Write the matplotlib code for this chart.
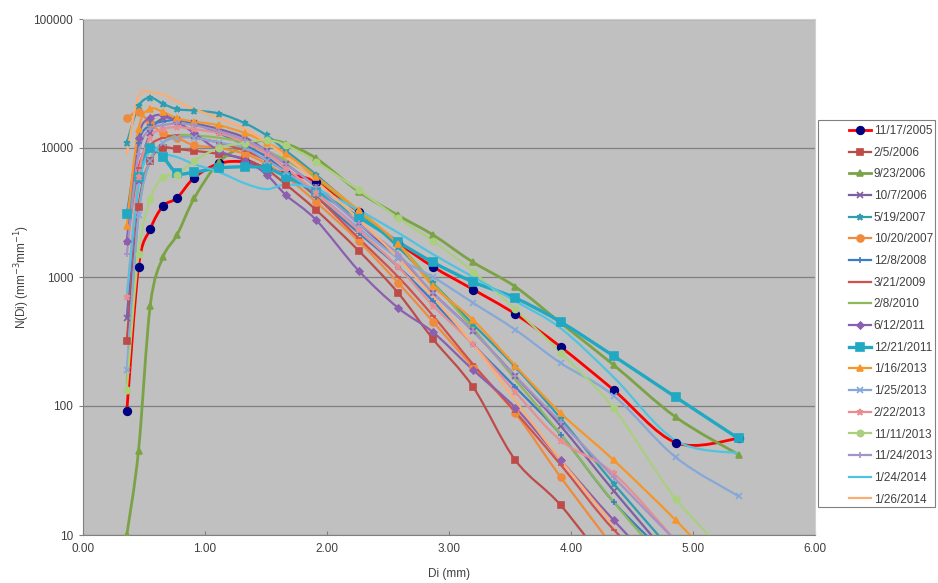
import matplotlib
matplotlib.use("Agg")
import matplotlib.pyplot as plt
from matplotlib.path import Path
from matplotlib.patches import PathPatch, Rectangle
from matplotlib.lines import Line2D
import numpy as np

nan = np.nan

# ── Data: drop size bins (mm) and N(D) per event ─────────────────────────────
diam = [0.359, 0.455, 0.551, 0.656, 0.771, 0.913, 1.116, 1.331, 1.506, 1.665,
        1.912, 2.259, 2.584, 2.869, 3.198, 3.544, 3.916, 4.350, 4.859, 5.373]

dates = ["11/17/2005", "2/5/2006", "9/23/2006", "10/7/2006", "5/19/2007",
         "10/20/2007", "12/8/2008", "3/21/2009", "2/8/2010", "6/12/2011",
         "12/21/2011", "1/16/2013", "1/25/2013", "2/22/2013", "11/11/2013",
         "11/24/2013", "1/24/2014", "1/26/2014"]

n_20051117 = [91, 1200, 2350, 3550, 4100, 5900, 7600, 7800, 7000, 6300, 5450, 3200, 1840, 1200, 800, 516, 287, 133, 52, 56]
n_20060205 = [320, 3500, 8000, 10000, 9800, 9500, 9000, 8200, 6800, 5200, 3300, 1600, 750, 330, 140, 38, 17, 5, nan, nan]
n_20060923 = [10, 45, 600, 1430, 2120, 4100, 7800, 10500, 11500, 10800, 8300, 4600, 3000, 2120, 1300, 840, 440, 208, 82, 42]
n_20061007 = [480, 5500, 13000, 17000, 16500, 15500, 14000, 12000, 9500, 7500, 5000, 2600, 1400, 750, 380, 170, 70, 22, 6, nan]
n_20070519 = [11000, 21000, 24500, 22000, 20000, 19500, 18500, 15500, 12500, 9500, 6200, 3200, 1700, 900, 430, 200, 80, 25, 7, nan]
n_20071020 = [17000, 19000, 15500, 13000, 12000, 10500, 10000, 9000, 7500, 6000, 3800, 1900, 900, 450, 200, 88, 28, 8, nan, nan]
n_20081208 = [3000, 11000, 15000, 16000, 16500, 15500, 13000, 10500, 8500, 6500, 4200, 2200, 1200, 650, 300, 140, 60, 18, 6, nan]
n_20090321 = [1800, 7000, 10500, 12000, 12500, 12000, 11000, 9500, 8000, 6500, 4200, 2000, 1000, 500, 210, 90, 35, 11, 4, nan]
n_20100208 = [150, 3000, 8000, 11000, 12500, 12500, 12000, 11000, 9500, 8000, 5800, 3200, 1800, 900, 400, 160, 60, 18, 5, nan]
n_20110612 = [1900, 12000, 17000, 18000, 16000, 13000, 9500, 8000, 6200, 4300, 2760, 1120, 575, 373, 190, 97, 38, 13, 4, nan]
n_20111221 = [3100, 6000, 10000, 8500, 6400, 6500, 7000, 7150, 7000, 6000, 4600, 2920, 1870, 1300, 915, 687, 448, 244, 117, 56]
n_20130116 = [2500, 14000, 20000, 19000, 17000, 16000, 15000, 13000, 11000, 9000, 6000, 3300, 1800, 850, 465, 205, 88, 38, 13, 4]
n_20130125 = [190, 3000, 8000, 11000, 12000, 12000, 11000, 10000, 8000, 6500, 4500, 2400, 1400, 1000, 630, 390, 215, 120, 40, 20]
n_20130222 = [700, 6000, 12000, 14000, 14500, 14000, 13000, 11000, 9000, 7000, 4500, 2300, 1200, 600, 300, 128, 54, 30, 9, nan]
n_20131111 = [133, 1500, 4000, 5960, 6200, 8000, 10000, 11000, 11500, 10500, 7800, 4720, 2860, 1900, 1100, 560, 258, 96, 19, 6]
n_20131124 = [1500, 9000, 14000, 15000, 15500, 15000, 13500, 11500, 9500, 7500, 5000, 2600, 1500, 750, 380, 170, 75, 28, 9, nan]
n_20140124 = [700, 5000, 9500, 9000, 8500, 7500, 6500, 5300, 4800, 5200, 4800, 3300, 2200, 1500, 1000, 650, 400, 167, 54, 43]
n_20140126 = [9000, 25000, 27000, 26000, 23000, 20000, 17000, 14000, 11000, 8500, 5500, 2800, 1400, 700, 300, 110, 38, 12, nan, nan]

series = [n_20051117, n_20060205, n_20060923, n_20061007, n_20070519,
          n_20071020, n_20081208, n_20090321, n_20100208, n_20110612,
          n_20111221, n_20130116, n_20130125, n_20130222, n_20131111,
          n_20131124, n_20140124, n_20140126]

# ── Styles: (line colour, marker, marker colour, line width, marker size) ───
styles = [
    ("#FF0000", "o", "#000080", 2.0, 5.5),
    ("#BE4B48", "s", "#BE4B48", 1.6, 4.5),
    ("#7BA346", "^", "#7BA346", 2.0, 5.0),
    ("#7E5FA0", "x", "#7E5FA0", 1.6, 4.0),
    ("#2E9DB0", "*", "#2E9DB0", 1.6, 5.0),
    ("#F08A3C", "o", "#F08A3C", 1.6, 5.0),
    ("#3B7DC4", "+", "#3B7DC4", 1.6, 4.5),
    ("#D0504C", "_", "#D0504C", 1.6, 4.0),
    ("#8CB85A", "", "#8CB85A", 1.6, 0),
    ("#8A5FB0", "D", "#8A5FB0", 1.6, 3.5),
    ("#21A8C3", "s", "#21A8C3", 2.4, 6.0),
    ("#F6962A", "^", "#F6962A", 1.6, 4.5),
    ("#86A8D8", "x", "#86A8D8", 1.6, 4.0),
    ("#E88E92", "*", "#E88E92", 1.6, 4.5),
    ("#AACF7F", "o", "#AACF7F", 1.6, 4.5),
    ("#A393C6", "+", "#A393C6", 1.6, 4.5),
    ("#4FC3E0", "", "#4FC3E0", 1.6, 0),
    ("#F9AE73", "", "#F9AE73", 1.6, 0),
]


def smooth_path(xs, ys):
    """Excel-style smoothed line: Catmull-Rom Beziers in (x, log y)."""
    pts = np.column_stack([xs, np.log10(ys)])
    n = len(pts)
    verts, codes = [pts[0]], [Path.MOVETO]
    for i in range(n - 1):
        p0 = pts[i - 1] if i > 0 else pts[i]
        p1, p2 = pts[i], pts[i + 1]
        p3 = pts[i + 2] if i + 2 < n else pts[i + 1]
        verts += [p1 + (p2 - p0) / 6, p2 - (p3 - p1) / 6, p2]
        codes += [Path.CURVE4] * 3
    verts = np.array(verts)
    verts[:, 1] = 10 ** verts[:, 1]
    return Path(verts, codes)


plt.rcParams["font.family"] = ["Liberation Sans", "DejaVu Sans"]
FS = 8.5
TXT = "#404040"

fig = plt.figure(figsize=(9.38, 5.83), dpi=100)
fig.patch.set_facecolor("white")
ax = fig.add_axes([83 / 938, 48 / 583, 732 / 938, 516 / 583])
ax.set_facecolor("#C0C0C0")
ax.set_yscale("log")

handles = []
for vals, lab, (lc, mk, mc, lw, ms) in zip(series, dates, styles):
    x = np.array(diam)
    y = np.array(vals, dtype=float)
    ok = ~np.isnan(y)
    ax.add_patch(PathPatch(smooth_path(x[ok], y[ok]), fill=False,
                           edgecolor=lc, lw=lw, zorder=3,
                           capstyle="round", joinstyle="round"))
    if mk:
        ax.plot(x[ok], y[ok], ls="none", marker=mk, markersize=ms,
                markerfacecolor=mc, markeredgecolor=mc,
                markeredgewidth=1.2, zorder=4)
    handles.append(Line2D([], [], color=lc, lw=lw, marker=mk if mk else None,
                          markersize=ms, markerfacecolor=mc,
                          markeredgecolor=mc, markeredgewidth=1.2))

ax.set_ylim(10, 100000)
ax.set_xlim(0, 6)
ax.set_xticks(np.arange(0, 7, 1))
ax.set_xticklabels([f"{v:.2f}" for v in np.arange(0, 7, 1)])
ax.set_yticks([10, 100, 1000, 10000, 100000])
ax.set_yticklabels(["10", "100", "1000", "10000", "100000"])
ax.minorticks_off()
ax.yaxis.grid(True, color="#808080", lw=0.9, zorder=1)
ax.set_axisbelow(True)

for side in ["top", "right"]:
    ax.spines[side].set_color("#D0D0D0")
for side in ["left", "bottom"]:
    ax.spines[side].set_color("#808080")
ax.tick_params(axis="x", direction="in", length=3, colors="#808080",
               labelcolor=TXT, labelsize=FS, pad=6)
ax.tick_params(axis="y", direction="out", length=3, colors="#808080",
               labelcolor=TXT, labelsize=FS, pad=4)

ax.set_xlabel("Di (mm)", fontsize=FS, color=TXT, labelpad=9)
ax.set_ylabel(r"N(Di) (mm$^{-3}$mm$^{-1}$)", fontsize=FS, color=TXT, labelpad=1)

# legend box drawn separately (Excel leaves a wide left margin)
fig.patches.append(Rectangle((818 / 938, 1 - 507 / 583), 117 / 938, 387 / 583,
                             transform=fig.transFigure, facecolor="white",
                             edgecolor="#808080", lw=0.8, zorder=0))
leg = fig.legend(handles, dates, loc="upper left",
                 bbox_to_anchor=(849 / 938, 1 - 125 / 583),
                 fontsize=FS, frameon=False, handlelength=1.9,
                 labelspacing=0.82, borderpad=0, borderaxespad=0,
                 handletextpad=0.2)
for t in leg.get_texts():
    t.set_color(TXT)

fig.savefig("out.png", dpi=100, facecolor="white")
